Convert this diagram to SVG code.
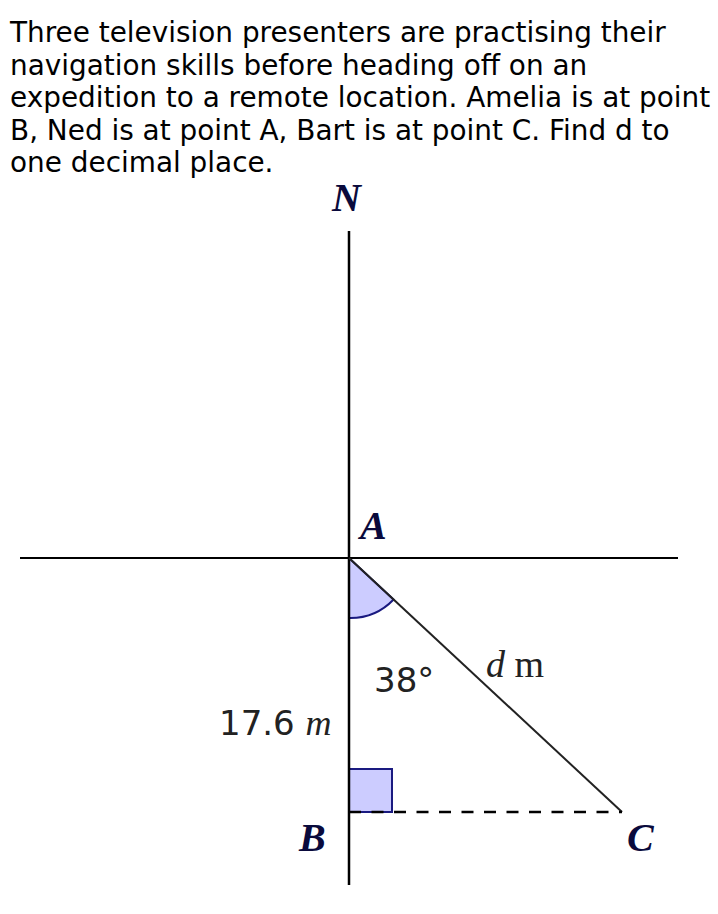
<svg xmlns="http://www.w3.org/2000/svg" width="718" height="914" viewBox="0 0 718 914">
<style>
.q{font-family:"DejaVu Sans",sans-serif;font-size:27.9px;fill:#000}
.pt{font-family:"Liberation Serif",serif;font-style:italic;font-weight:bold;font-size:40px;fill:#0a0a3c}
.lb{font-family:"DejaVu Sans",sans-serif;font-size:34px;fill:#222}
.ax{stroke:#000;stroke-width:2.5;fill:none}
.mk{fill:#ccccff;stroke:#1a1a80;stroke-width:2}
</style>
<rect width="718" height="914" fill="#fff"/>
<g id="question">
<text class="q" x="10" y="42">Three television presenters are practising their</text>
<text class="q" x="10" y="75">navigation skills before heading off on an</text>
<text class="q" x="10" y="107">expedition to a remote location. Amelia is at point</text>
<text class="q" x="10" y="140">B, Ned is at point A, Bart is at point C. Find d to</text>
<text class="q" x="10" y="172">one decimal place.</text>
</g>
<g id="markers">
<path class="mk" d="M349,558 L349,618 A60,60 0 0 0 393.6,599.5 Z"/>
<rect class="mk" x="349" y="769" width="43" height="43"/>
</g>
<g id="connectors">
<line class="ax" x1="349" y1="231" x2="349" y2="885"/>
<line x1="20" y1="558" x2="678" y2="558" stroke="#000" stroke-width="2"/>
<line x1="349" y1="558" x2="622" y2="812" stroke="#222" stroke-width="2"/>
<line x1="349" y1="812" x2="622" y2="812" stroke="#000" stroke-width="2.5" stroke-dasharray="12,10.5"/>
</g>
<g id="labels">
<text class="pt" x="332" y="211">N</text>
<text class="pt" x="360" y="539">A</text>
<text class="pt" x="299" y="851">B</text>
<text class="pt" x="627" y="851">C</text>
<text class="lb" x="374" y="692">38°</text>
<text x="486" y="677" font-family="Liberation Serif,serif" font-size="38" fill="#222"><tspan font-style="italic">d</tspan> m</text>
<text class="lb" x="219" y="735">17.6 <tspan font-family="Liberation Serif,serif" font-style="italic" font-size="36">m</tspan></text>
</g>
</svg>
